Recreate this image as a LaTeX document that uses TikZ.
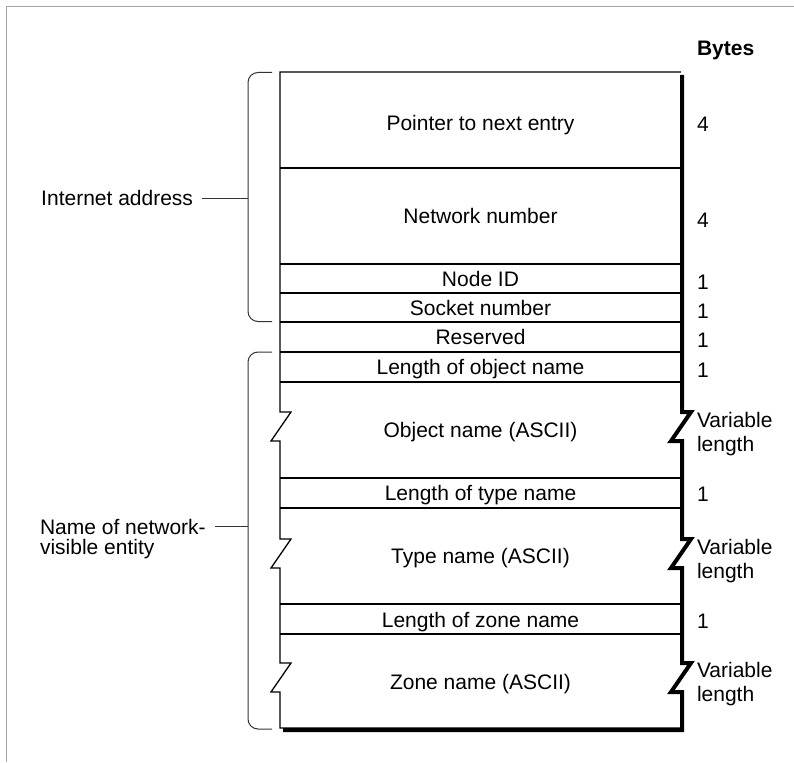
\documentclass[tikz,border=0pt]{standalone}
\usepackage{fontspec}
\setmainfont{Liberation Sans}
\begin{document}
\begin{tikzpicture}[x=1pt,y=-1pt,
  every node/.style={inner sep=0pt, outer sep=0pt, font=\fontsize{21}{24}\selectfont},
  frameline/.style={draw=black!35, line width=1pt},
  cellline/.style={draw=black, line width=1.3pt},
  shadowline/.style={draw=black, line width=4pt, line join=miter},
  bracket/.style={draw=black!80, line width=1pt, rounded corners=10pt},
  tickline/.style={draw=black!80, line width=1pt},
  field/.style={anchor=base},
  bytecount/.style={anchor=base west},
  varlen/.style={anchor=west, align=left},
  sidelabel/.style={align=left}]
\useasboundingbox (0,0) rectangle (794,762);

% page frame
\draw[frameline] (794,7) -- (6,7) -- (6,762);

% record outline: top edge and left edge with the three break marks
\draw[cellline] (681,72) -- (280,72)
  -- (280,412) -- (291,412) -- (271,441) -- (280,441)
  -- (280,539) -- (291,539) -- (271,568) -- (280,568)
  -- (280,663) -- (291,663) -- (271,692) -- (280,692)
  -- (280,728) -- (681,728);

% heavy right and bottom edge, broken the same way
\draw[shadowline] (682,75)
  -- (682,412) -- (691,412) -- (671,441) -- (682,441)
  -- (682,539) -- (691,539) -- (671,568) -- (682,568)
  -- (682,663) -- (691,663) -- (671,692) -- (682,692)
  -- (682,730) -- (283,730);

% field separators
\foreach \y in {168,264,293,322,352,382,478,508,604,634}
  \draw[cellline] (280,\y) -- (681,\y);

% field names
\node[field] (ptr)   at (480.5,131) {Pointer to next entry};
\node[field] (net)   at (480.5,223.5) {Network number};
\node[field] (node)  at (480.5,286) {Node ID};
\node[field] (sock)  at (480.5,315) {Socket number};
\node[field] (res)   at (480.5,344.5) {Reserved};
\node[field] (lobj)  at (480.5,374.5) {Length of object name};
\node[field] (obj)   at (480.5,437.5) {Object name (ASCII)};
\node[field] (ltype) at (480.5,500.5) {Length of type name};
\node[field] (type)  at (480.5,563.5) {Type name (ASCII)};
\node[field] (lzone) at (480.5,627) {Length of zone name};
\node[field] (zone)  at (480.5,689.5) {Zone name (ASCII)};

% byte counts
\node[anchor=base west, font=\fontsize{21}{24}\selectfont\bfseries] (bytes) at (697,55.5) {Bytes};
\node[bytecount] (b1) at (697,131.5) {4};
\node[bytecount] (b2) at (697,227.5) {4};
\node[bytecount] (b3) at (697,289.5) {1};
\node[bytecount] (b4) at (697,318.5) {1};
\node[bytecount] (b5) at (697,347.5) {1};
\node[bytecount] (b6) at (697,377.5) {1};
\node[varlen]    (b7) at (697,434) {Variable\\length};
\node[bytecount] (b8) at (697,501.5) {1};
\node[varlen]    (b9) at (697,561) {Variable\\length};
\node[bytecount] (b10) at (697,628.5) {1};
\node[varlen]    (b11) at (697,684) {Variable\\length};

% groupings on the left
\draw[bracket] (272,72.5) -- (248,72.5) -- (248,321.5) -- (272,321.5);
\draw[bracket] (272,352) -- (248,352) -- (248,729) -- (272,729);

\coordinate (iajoin) at (248,198);
\coordinate (nmjoin) at (248,526);

\node[anchor=base east] (ialabel) at (193,205.5) {Internet address};
\node[sidelabel, anchor=west, font=\fontsize{21}{20}\selectfont] (nmlabel) at (40,539.5) {Name of network-\\visible entity};

\draw[tickline] (ialabel.east |- iajoin) ++(9,0) -- (iajoin);
\draw[tickline] (nmlabel.east |- nmjoin) ++(9,0) -- (nmjoin);
\end{tikzpicture}
\end{document}
